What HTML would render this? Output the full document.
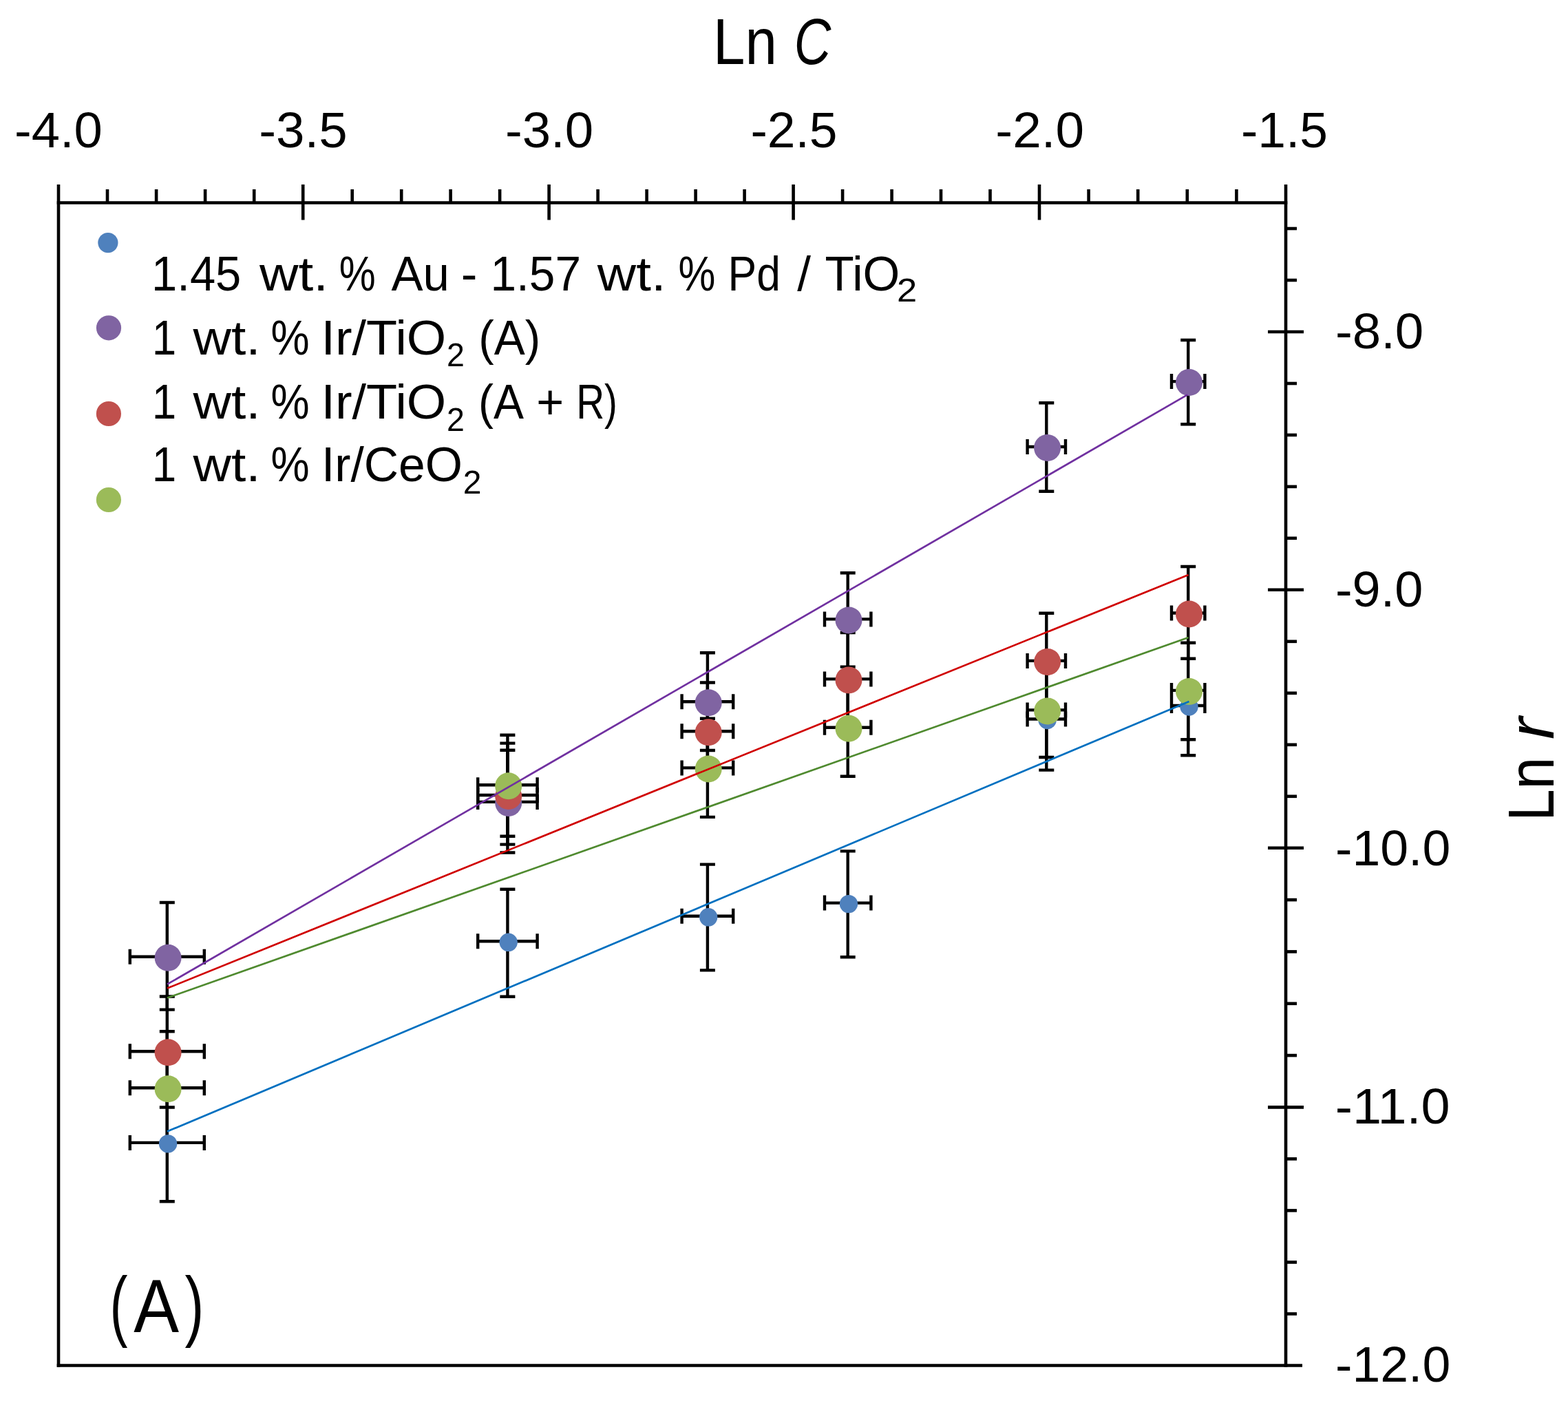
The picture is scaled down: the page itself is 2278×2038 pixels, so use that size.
<!DOCTYPE html>
<html><head><meta charset="utf-8"><title>Ln r vs Ln C</title>
<style>html,body{margin:0;padding:0;background:#fff;width:2278px;height:2038px;overflow:hidden}svg{display:block}</style>
</head><body>
<svg width="2278" height="2038" viewBox="0 0 2278 2038"><g stroke="#000" stroke-width="4.6" stroke-linecap="butt" fill="none"><line x1="85.0" y1="268" x2="85.0" y2="1985.8"/><line x1="1868.0" y1="268" x2="1868.0" y2="1985.8"/><line x1="82.7" y1="294.5" x2="1870.3" y2="294.5"/><line x1="82.7" y1="1983.5" x2="1892" y2="1983.5"/><line x1="440.2" y1="268" x2="440.2" y2="319.5"/><line x1="797.6" y1="268" x2="797.6" y2="319.5"/><line x1="1152.6" y1="268" x2="1152.6" y2="319.5"/><line x1="1510.0" y1="268" x2="1510.0" y2="319.5"/><line x1="156.0" y1="275" x2="156.0" y2="294.5"/><line x1="227.1" y1="275" x2="227.1" y2="294.5"/><line x1="298.1" y1="275" x2="298.1" y2="294.5"/><line x1="369.2" y1="275" x2="369.2" y2="294.5"/><line x1="511.7" y1="275" x2="511.7" y2="294.5"/><line x1="583.2" y1="275" x2="583.2" y2="294.5"/><line x1="654.6" y1="275" x2="654.6" y2="294.5"/><line x1="726.1" y1="275" x2="726.1" y2="294.5"/><line x1="868.6" y1="275" x2="868.6" y2="294.5"/><line x1="939.6" y1="275" x2="939.6" y2="294.5"/><line x1="1010.6" y1="275" x2="1010.6" y2="294.5"/><line x1="1081.6" y1="275" x2="1081.6" y2="294.5"/><line x1="1224.1" y1="275" x2="1224.1" y2="294.5"/><line x1="1295.6" y1="275" x2="1295.6" y2="294.5"/><line x1="1367.0" y1="275" x2="1367.0" y2="294.5"/><line x1="1438.5" y1="275" x2="1438.5" y2="294.5"/><line x1="1581.6" y1="275" x2="1581.6" y2="294.5"/><line x1="1653.2" y1="275" x2="1653.2" y2="294.5"/><line x1="1724.8" y1="275" x2="1724.8" y2="294.5"/><line x1="1796.4" y1="275" x2="1796.4" y2="294.5"/><line x1="1842" y1="482.0" x2="1894" y2="482.0"/><line x1="1842" y1="856.8" x2="1894" y2="856.8"/><line x1="1842" y1="1231.8" x2="1894" y2="1231.8"/><line x1="1842" y1="1608.4" x2="1894" y2="1608.4"/><line x1="1868.0" y1="407.0" x2="1884" y2="407.0"/><line x1="1868.0" y1="332.0" x2="1884" y2="332.0"/><line x1="1868.0" y1="557.0" x2="1884" y2="557.0"/><line x1="1868.0" y1="631.9" x2="1884" y2="631.9"/><line x1="1868.0" y1="706.9" x2="1884" y2="706.9"/><line x1="1868.0" y1="781.8" x2="1884" y2="781.8"/><line x1="1868.0" y1="931.8" x2="1884" y2="931.8"/><line x1="1868.0" y1="1006.8" x2="1884" y2="1006.8"/><line x1="1868.0" y1="1081.8" x2="1884" y2="1081.8"/><line x1="1868.0" y1="1156.8" x2="1884" y2="1156.8"/><line x1="1868.0" y1="1307.1" x2="1884" y2="1307.1"/><line x1="1868.0" y1="1382.4" x2="1884" y2="1382.4"/><line x1="1868.0" y1="1457.8" x2="1884" y2="1457.8"/><line x1="1868.0" y1="1533.1" x2="1884" y2="1533.1"/><line x1="1868.0" y1="1683.4" x2="1884" y2="1683.4"/><line x1="1868.0" y1="1758.4" x2="1884" y2="1758.4"/><line x1="1868.0" y1="1833.5" x2="1884" y2="1833.5"/><line x1="1868.0" y1="1908.5" x2="1884" y2="1908.5"/></g>
<g font-family="'Liberation Sans', Arial, sans-serif" fill="#000"><text x="21.03" y="214.00" font-size="73" textLength="127.87" lengthAdjust="spacingAndGlyphs">-4.0</text><text x="376.22" y="214.00" font-size="73" textLength="128.42" lengthAdjust="spacingAndGlyphs">-3.5</text><text x="733.93" y="214.00" font-size="73" textLength="128.08" lengthAdjust="spacingAndGlyphs">-3.0</text><text x="1090.48" y="214.00" font-size="73" textLength="126.11" lengthAdjust="spacingAndGlyphs">-2.5</text><text x="1446.31" y="214.00" font-size="73" textLength="128.71" lengthAdjust="spacingAndGlyphs">-2.0</text><text x="1802.88" y="214.00" font-size="73" textLength="126.11" lengthAdjust="spacingAndGlyphs">-1.5</text><text x="1939.92" y="505.70" font-size="73" textLength="128.40" lengthAdjust="spacingAndGlyphs">-8.0</text><text x="1939.95" y="880.50" font-size="73" textLength="127.45" lengthAdjust="spacingAndGlyphs">-9.0</text><text x="1939.97" y="1256.60" font-size="73" textLength="167.32" lengthAdjust="spacingAndGlyphs">-10.0</text><text x="1939.87" y="1631.60" font-size="73" textLength="166.78" lengthAdjust="spacingAndGlyphs">-11.0</text><text x="1939.97" y="2007.30" font-size="73" textLength="167.32" lengthAdjust="spacingAndGlyphs">-12.0</text><text x="1036.07" y="93.10" font-size="94" textLength="92.67" lengthAdjust="spacingAndGlyphs">Ln</text><text x="1153.82" y="93.10" font-size="94" font-style="italic" textLength="53.52" lengthAdjust="spacingAndGlyphs">C</text><g transform="translate(2256.7 1186.2) rotate(-90)"><text x="-6.88" y="0.00" font-size="94" textLength="93.37" lengthAdjust="spacingAndGlyphs">Ln</text><text x="112.17" y="0.00" font-size="94" font-style="italic" textLength="31.97" lengthAdjust="spacingAndGlyphs">r</text></g><text x="159.56" y="1933.70" font-size="113.4" textLength="26.01" lengthAdjust="spacingAndGlyphs">(</text><text x="194.20" y="1935.00" font-size="110" textLength="65.79" lengthAdjust="spacingAndGlyphs">A</text><text x="268.60" y="1933.70" font-size="113.4" textLength="27.90" lengthAdjust="spacingAndGlyphs">)</text></g>
<g stroke="#000" stroke-width="4.4" fill="none"><path d="M242.8 1581.0V1745.3M231.8 1581.0H253.8M231.8 1745.3H253.8M188.8 1659.9H296.8M188.8 1648.9V1670.9M296.8 1648.9V1670.9"/><path d="M737.4 1291.7V1447.8M726.4 1291.7H748.4M726.4 1447.8H748.4M694.2 1367.3H780.6M694.2 1356.3V1378.3M780.6 1356.3V1378.3"/><path d="M1027.9 1255.6V1409.4M1016.9 1255.6H1038.9M1016.9 1409.4H1038.9M990.6 1330.8H1065.2M990.6 1319.8V1341.8M1065.2 1319.8V1341.8"/><path d="M1231.7 1236.4V1390.2M1220.7 1236.4H1242.7M1220.7 1390.2H1242.7M1198.0 1311.6H1265.4M1198.0 1300.6V1322.6M1265.4 1300.6V1322.6"/><path d="M1520.3 1030.0V1118.6M1509.3 1030.0H1531.3M1509.3 1118.6H1531.3M1492.6 1044.5H1548.0M1492.6 1033.5V1055.5M1548.0 1033.5V1055.5"/><path d="M1726.2 1010.0V1097.2M1715.2 1010.0H1737.2M1715.2 1097.2H1737.2M1702.0 1025.0H1750.4M1702.0 1014.0V1036.0M1750.4 1014.0V1036.0"/><path d="M242.8 1311.0V1466.6M231.8 1311.0H253.8M231.8 1466.6H253.8M188.8 1389.7H296.8M188.8 1378.7V1400.7M296.8 1378.7V1400.7"/><path d="M737.4 1089.8V1238.5M726.4 1089.8H748.4M726.4 1238.5H748.4M694.2 1164.9H780.6M694.2 1153.9V1175.9M780.6 1153.9V1175.9"/><path d="M1027.9 948.2V1090.0M1016.9 948.2H1038.9M1016.9 1090.0H1038.9M990.6 1019.3H1065.2M990.6 1008.3V1030.3M1065.2 1008.3V1030.3"/><path d="M1231.7 832.3V968.6M1220.7 832.3H1242.7M1220.7 968.6H1242.7M1198.0 899.4H1265.4M1198.0 888.4V910.4M1265.4 888.4V910.4"/><path d="M1520.3 585.2V713.8M1509.3 585.2H1531.3M1509.3 713.8H1531.3M1492.6 649.0H1548.0M1492.6 638.0V660.0M1548.0 638.0V660.0"/><path d="M1726.2 494.0V616.2M1715.2 494.0H1737.2M1715.2 616.2H1737.2M1702.0 554.1H1750.4M1702.0 543.1V565.1M1750.4 543.1V565.1"/><path d="M242.8 1447.5V1608.5M231.8 1447.5H253.8M231.8 1608.5H253.8M188.8 1527.2H296.8M188.8 1516.2V1538.2M296.8 1516.2V1538.2"/><path d="M737.4 1079.6V1226.6M726.4 1079.6H748.4M726.4 1226.6H748.4M694.2 1155.0H780.6M694.2 1144.0V1166.0M780.6 1144.0V1166.0"/><path d="M1027.9 991.5V1128.0M1016.9 991.5H1038.9M1016.9 1128.0H1038.9M990.6 1062.3H1065.2M990.6 1051.3V1073.3M1065.2 1051.3V1073.3"/><path d="M1231.7 919.0V1056.0M1220.7 919.0H1242.7M1220.7 1056.0H1242.7M1198.0 986.4H1265.4M1198.0 975.4V997.4M1265.4 975.4V997.4"/><path d="M1520.3 890.7V1032.0M1509.3 890.7H1531.3M1509.3 1032.0H1531.3M1492.6 959.9H1548.0M1492.6 948.9V970.9M1548.0 948.9V970.9"/><path d="M1726.2 823.0V956.7M1715.2 823.0H1737.2M1715.2 956.7H1737.2M1702.0 890.5H1750.4M1702.0 879.5V901.5M1750.4 879.5V901.5"/><path d="M242.8 1498.3V1663.0M231.8 1498.3H253.8M231.8 1663.0H253.8M188.8 1580.3H296.8M188.8 1569.3V1591.3M296.8 1569.3V1591.3"/><path d="M737.4 1067.7V1214.7M726.4 1067.7H748.4M726.4 1214.7H748.4M694.2 1140.2H780.6M694.2 1129.2V1151.2M780.6 1129.2V1151.2"/><path d="M1027.9 1043.8V1186.9M1016.9 1043.8H1038.9M1016.9 1186.9H1038.9M990.6 1115.4H1065.2M990.6 1104.4V1126.4M1065.2 1104.4V1126.4"/><path d="M1231.7 990.0V1127.7M1220.7 990.0H1242.7M1220.7 1127.7H1242.7M1198.0 1056.7H1265.4M1198.0 1045.7V1067.7M1265.4 1045.7V1067.7"/><path d="M1520.3 962.0V1100.0M1509.3 962.0H1531.3M1509.3 1100.0H1531.3M1492.6 1031.4H1548.0M1492.6 1020.4V1042.4M1548.0 1020.4V1042.4"/><path d="M1726.2 933.7V1074.2M1715.2 933.7H1737.2M1715.2 1074.2H1737.2M1702.0 1002.9H1750.4M1702.0 991.9V1013.9M1750.4 991.9V1013.9"/></g>
<g><circle cx="244.1" cy="1661.4" r="13.2" fill="#4F81BD"/><circle cx="738.7" cy="1368.8" r="13.2" fill="#4F81BD"/><circle cx="1029.2" cy="1332.3" r="13.2" fill="#4F81BD"/><circle cx="1233.0" cy="1313.1" r="13.2" fill="#4F81BD"/><circle cx="1521.6" cy="1046.0" r="13.2" fill="#4F81BD"/><circle cx="1727.5" cy="1026.5" r="13.2" fill="#4F81BD"/><circle cx="244.1" cy="1391.2" r="19.5" fill="#8064A2"/><circle cx="738.7" cy="1166.4" r="19.5" fill="#8064A2"/><circle cx="1029.2" cy="1020.8" r="19.5" fill="#8064A2"/><circle cx="1233.0" cy="900.9" r="19.5" fill="#8064A2"/><circle cx="1521.6" cy="650.5" r="19.5" fill="#8064A2"/><circle cx="1727.5" cy="555.6" r="19.5" fill="#8064A2"/><circle cx="244.1" cy="1528.7" r="19.5" fill="#C0504D"/><circle cx="738.7" cy="1156.5" r="19.5" fill="#C0504D"/><circle cx="1029.2" cy="1063.8" r="19.5" fill="#C0504D"/><circle cx="1233.0" cy="987.9" r="19.5" fill="#C0504D"/><circle cx="1521.6" cy="961.4" r="19.5" fill="#C0504D"/><circle cx="1727.5" cy="892.0" r="19.5" fill="#C0504D"/><circle cx="244.1" cy="1581.8" r="19.5" fill="#9BBB59"/><circle cx="738.7" cy="1141.7" r="19.5" fill="#9BBB59"/><circle cx="1029.2" cy="1116.9" r="19.5" fill="#9BBB59"/><circle cx="1233.0" cy="1058.2" r="19.5" fill="#9BBB59"/><circle cx="1521.6" cy="1032.9" r="19.5" fill="#9BBB59"/><circle cx="1727.5" cy="1004.4" r="19.5" fill="#9BBB59"/></g>
<g stroke-width="2.7" stroke-linecap="butt"><line x1="243.0" y1="1429.7" x2="1725.2" y2="573.4" stroke="#7030A0"/><line x1="243.0" y1="1435.6" x2="1726.6" y2="834.9" stroke="#D00000"/><line x1="243.0" y1="1449.5" x2="1726.6" y2="926.0" stroke="#4F8A2F"/><line x1="242.9" y1="1643.6" x2="1727.5" y2="1018.9" stroke="#0070C0"/></g>
<g><circle cx="156.9" cy="352.6" r="14.6" fill="#4F81BD"/><circle cx="158" cy="476.3" r="18.1" fill="#8064A2"/><circle cx="157.9" cy="601.0" r="18.1" fill="#C0504D"/><circle cx="157.9" cy="726.0" r="18.1" fill="#9BBB59"/></g>
<g font-family="'Liberation Sans', Arial, sans-serif" fill="#000"><text x="220.12" y="421.50" font-size="71" textLength="130.21" lengthAdjust="spacingAndGlyphs">1.45</text><text x="377.08" y="421.50" font-size="71" textLength="100.03" lengthAdjust="spacingAndGlyphs">wt.</text><text x="492.86" y="421.50" font-size="71" textLength="52.94" lengthAdjust="spacingAndGlyphs">%</text><text x="568.56" y="421.50" font-size="71" textLength="84.40" lengthAdjust="spacingAndGlyphs">Au</text><text x="669.68" y="421.50" font-size="71">-</text><text x="712.46" y="421.50" font-size="71" textLength="131.54" lengthAdjust="spacingAndGlyphs">1.57</text><text x="867.88" y="421.50" font-size="71" textLength="99.71" lengthAdjust="spacingAndGlyphs">wt.</text><text x="985.42" y="421.50" font-size="71" textLength="53.91" lengthAdjust="spacingAndGlyphs">%</text><text x="1057.58" y="421.50" font-size="71" textLength="76.32" lengthAdjust="spacingAndGlyphs">Pd</text><text x="1158.33" y="421.50" font-size="71">/</text><text x="1198.48" y="421.50" font-size="71" textLength="108.82" lengthAdjust="spacingAndGlyphs">TiO</text><text x="1302.97" y="438.30" font-size="48" textLength="29.27" lengthAdjust="spacingAndGlyphs">2</text><text x="220.65" y="514.60" font-size="71" textLength="35.49" lengthAdjust="spacingAndGlyphs">1</text><text x="280.58" y="514.60" font-size="71" textLength="98.10" lengthAdjust="spacingAndGlyphs">wt.</text><text x="393.53" y="514.60" font-size="71" textLength="56.09" lengthAdjust="spacingAndGlyphs">%</text><text x="466.51" y="514.60" font-size="71" textLength="181.69" lengthAdjust="spacingAndGlyphs">Ir/TiO</text><text x="649.08" y="532.20" font-size="48" textLength="25.86" lengthAdjust="spacingAndGlyphs">2</text><text x="695.22" y="514.60" font-size="71" textLength="89.97" lengthAdjust="spacingAndGlyphs">(A)</text><text x="220.65" y="608.40" font-size="71" textLength="35.49" lengthAdjust="spacingAndGlyphs">1</text><text x="280.58" y="608.40" font-size="71" textLength="98.10" lengthAdjust="spacingAndGlyphs">wt.</text><text x="393.53" y="608.40" font-size="71" textLength="56.09" lengthAdjust="spacingAndGlyphs">%</text><text x="466.51" y="608.40" font-size="71" textLength="181.69" lengthAdjust="spacingAndGlyphs">Ir/TiO</text><text x="648.98" y="625.70" font-size="48" textLength="25.86" lengthAdjust="spacingAndGlyphs">2</text><text x="695.01" y="608.40" font-size="71" textLength="65.92" lengthAdjust="spacingAndGlyphs">(A</text><text x="779.35" y="608.40" font-size="71" textLength="39.89" lengthAdjust="spacingAndGlyphs">+</text><text x="837.15" y="608.40" font-size="71" textLength="59.88" lengthAdjust="spacingAndGlyphs">R)</text><text x="220.65" y="698.50" font-size="71" textLength="35.49" lengthAdjust="spacingAndGlyphs">1</text><text x="280.58" y="698.50" font-size="71" textLength="98.10" lengthAdjust="spacingAndGlyphs">wt.</text><text x="393.53" y="698.50" font-size="71" textLength="56.09" lengthAdjust="spacingAndGlyphs">%</text><text x="466.90" y="698.50" font-size="71" textLength="204.93" lengthAdjust="spacingAndGlyphs">Ir/CeO</text><text x="672.80" y="716.60" font-size="48" textLength="26.71" lengthAdjust="spacingAndGlyphs">2</text></g></svg>
</body></html>
